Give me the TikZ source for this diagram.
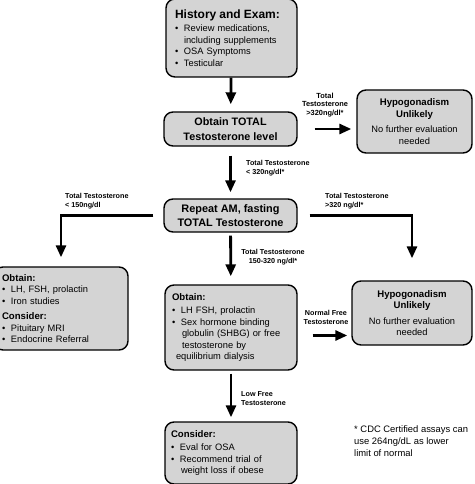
\documentclass[tikz,border=0pt]{standalone}
\usepackage{fontspec}
\setmainfont{Liberation Sans}
\usetikzlibrary{arrows.meta}
\definecolor{boxgray}{RGB}{212,212,212}
\def\bul{\makebox[9pt][l]{\textbullet}}
\def\hd#1{{\bfseries\fontsize{9.6}{11.5}\selectfont #1}}

\begin{document}
\begin{tikzpicture}[x=1pt,y=-1pt,
    box/.style={draw,line width=1.4pt,rounded corners=9pt,fill=boxgray,inner sep=0pt,
      font=\fontsize{9.3}{11.5}\selectfont},
    lbl/.style={inner sep=0pt,font=\bfseries\fontsize{7.2}{9.6}\selectfont},
    flow/.style={line width=2.8pt,-{Triangle[length=12pt,width=10pt]}}]
  \useasboundingbox (0,0) rectangle (474,484);
  % boxes down the middle
  \draw (231.5,38) node[box,minimum width=131pt,minimum height=78pt,text width=113pt,align=left] (hist)
    {{\bfseries\fontsize{12}{14}\selectfont History and Exam:}\\[2pt]
     \bul Review medications,\\ \hspace*{9pt}including supplements\\ \bul OSA Symptoms\\ \bul Testicular};
  \draw (230.5,129) node[box,minimum width=133pt,minimum height=34pt,align=center,
    font=\bfseries\fontsize{10.8}{14.5}\selectfont] (total) {Obtain TOTAL\\Testosterone level};
  \draw (230.5,215.5) node[box,minimum width=133pt,minimum height=33pt,align=center,
    font=\bfseries\fontsize{10.9}{13.5}\selectfont] (repeat) {Repeat AM, fasting\\TOTAL Testosterone};
  \draw (231,327.5) node[box,minimum width=132pt,minimum height=85pt,text width=118pt,align=left] (middle)
    {\hd{Obtain:}\\[2pt] \bul LH FSH, prolactin\\ \bul Sex hormone binding\\ \hspace*{10pt}globulin (SHBG) or free\\
     \hspace*{10pt}testosterone by\\ \hspace*{4pt}equilibrium dialysis};
  \draw (231,453) node[box,minimum width=132pt,minimum height=62pt,text width=120pt,align=left] (bottom)
    {\hd{Consider:}\\[2pt] \bul Eval for OSA\\ \bul Recommend trial of\\ \hspace*{10pt}weight loss if obese};
  % side boxes
  \draw (414.5,121.5) node[box,minimum width=115pt,minimum height=63pt,align=center] (unlikelyA)
    {\hd{Hypogonadism}\\ \hd{Unlikely}\\[4pt] No further evaluation\\ needed};
  \draw (61,308.5) node[box,minimum width=134pt,minimum height=83pt,text width=118pt,align=left] (low)
    {\hd{Obtain:}\\ \bul LH, FSH, prolactin\\ \bul Iron studies\\[4pt] \hd{Consider:}\\ \bul Pituitary MRI\\ \bul Endocrine Referral};
  \draw (412,313) node[box,minimum width=120pt,minimum height=64pt,align=center] (unlikelyB)
    {\hd{Hypogonadism}\\ \hd{Unlikely}\\[4pt] No further evaluation\\ needed};
  % arrows
  \draw[flow,shorten >=7pt] (hist) -- (total);
  \draw[flow,shorten <=17pt,shorten >=5pt] (total) -- (total -| unlikelyA.west);
  \draw[flow,shorten <=9pt,shorten >=6pt] (total) -- (repeat);
  \draw[flow,shorten >=9pt] ([xshift=-10pt]repeat.west) -| (low.north);
  \draw[flow,shorten >=22pt] ([xshift=12pt]repeat.east) -| (unlikelyB.north);
  \draw[flow,shorten <=3pt,shorten >=8pt] (repeat) -- (middle);
  \draw[flow,shorten <=15pt,shorten >=4pt] ([yshift=-8pt]middle.east) -- ([yshift=-8pt]middle.east -| unlikelyB.west);
  \draw[flow,shorten <=3pt,shorten >=4pt] (middle) -- (bottom);
  % labels
  \draw (325,105) node[lbl,align=center,font=\bfseries\fontsize{7.4}{8.3}\selectfont] (gtA) {Total\\Testosterone\\>320ng/dl*};
  \draw (246,168) node[lbl,anchor=west,align=left] (lt) {Total Testosterone\\< 320ng/dl*};
  \draw (65,201) node[lbl,anchor=west,align=left] (lt150) {Total Testosterone\\< 150ng/dl};
  \draw (325,201) node[lbl,anchor=west,align=left] (gtB) {Total Testosterone\\>320 ng/dl*};
  \draw (273,257) node[lbl,align=center] (mid) {Total Testosterone\\150-320 ng/dl*};
  \draw (326,317.5) node[lbl,align=center] (normfree) {Normal Free\\Testosterone};
  \draw (241,398.5) node[lbl,anchor=west,align=left] (lowfree) {Low Free\\Testosterone};
  \draw (354,441) node[anchor=west,align=left,inner sep=0pt,font=\fontsize{9.4}{11.8}\selectfont] (note)
    {* CDC Certified assays can\\use 264ng/dL as lower\\limit of normal};
\end{tikzpicture}
\end{document}
